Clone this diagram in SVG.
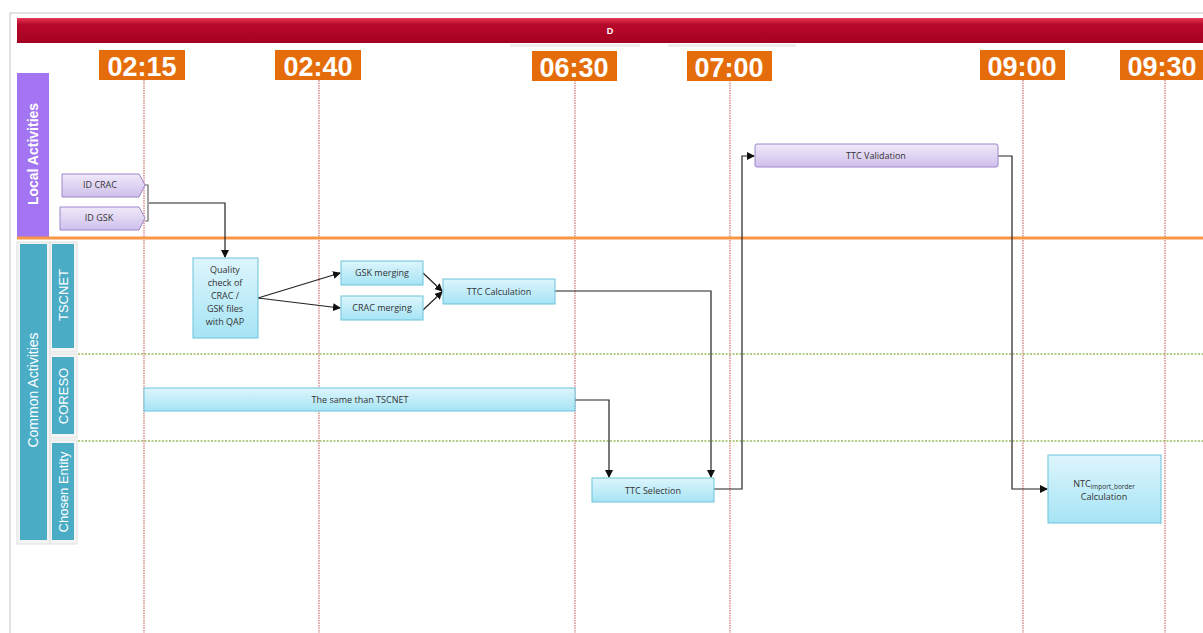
<svg xmlns="http://www.w3.org/2000/svg" width="1203" height="633" viewBox="0 0 1203 633">
<defs>
<linearGradient id="gBlue" x1="0" y1="0" x2="0" y2="1">
<stop offset="0" stop-color="#DDF5FC"/>
<stop offset="1" stop-color="#A6E4F5"/>
</linearGradient>
<linearGradient id="gPurple" x1="0" y1="0" x2="0" y2="1">
<stop offset="0" stop-color="#F0E9F9"/>
<stop offset="1" stop-color="#CFC0EC"/>
</linearGradient>
<linearGradient id="gRed" x1="0" y1="0" x2="0" y2="1">
<stop offset="0" stop-color="#E8385A"/>
<stop offset="0.25" stop-color="#B80A2A"/>
<stop offset="1" stop-color="#A50022"/>
</linearGradient>
<marker id="arr" markerWidth="8" markerHeight="8" refX="7" refY="4" orient="auto" markerUnits="userSpaceOnUse">
<path d="M0,0 L8,4 L0,8 z" fill="#111"/>
</marker>
<style>
.time{fill:#E46C0A}
.timet{font-family:"Liberation Sans",Arial,sans-serif;font-weight:bold;font-size:27px;fill:#fff;text-anchor:middle}
.vline{stroke:#C0504D;stroke-width:1.2;stroke-dasharray:1.5 1;fill:none;opacity:0.8}
.gline{stroke:#9BBB59;stroke-width:1.5;stroke-dasharray:2 1.5;fill:none}
.blue{fill:url(#gBlue);stroke:#6CC3DC;stroke-width:1}
.purple{fill:url(#gPurple);stroke:#9C86C9;stroke-width:1}
.nt{font-family:"Open Sans","Liberation Sans",sans-serif;font-size:9px;fill:#333;text-anchor:middle}
.conn{stroke:#222;stroke-width:1.2;fill:none}
.lane{font-family:"Liberation Sans",Arial,sans-serif;fill:#fff;text-anchor:middle}
</style>
</defs>
<rect x="0" y="0" width="1203" height="633" fill="#fff"/>
<path d="M10,633 L10,13 L1203,13" fill="none" stroke="#D9D9D9" stroke-width="1.5"/>

<g id="header">
<rect x="17" y="18" width="1186" height="25" fill="url(#gRed)"/>
<rect x="510" y="44" width="130" height="3" fill="#EEEEEE"/>
<rect x="668" y="44" width="128" height="3" fill="#EEEEEE"/>
<text x="610" y="34" font-family="Liberation Sans,Arial,sans-serif" font-size="9" font-weight="bold" fill="#fff" text-anchor="middle">D</text>
</g>

<g id="timeline">
<line class="vline" x1="144" y1="80" x2="144" y2="633"/>
<line class="vline" x1="319" y1="80" x2="319" y2="633"/>
<line class="vline" x1="575" y1="80" x2="575" y2="633"/>
<line class="vline" x1="730" y1="80" x2="730" y2="633"/>
<line class="vline" x1="1023" y1="80" x2="1023" y2="633"/>
<line class="vline" x1="1165" y1="80" x2="1165" y2="633"/>
<rect class="time" x="99" y="50" width="86" height="30"/>
<text class="timet" x="142" y="76">02:15</text>
<rect class="time" x="275" y="50" width="86" height="30"/>
<text class="timet" x="318" y="76">02:40</text>
<rect class="time" x="532" y="51" width="85" height="30"/>
<text class="timet" x="574" y="77">06:30</text>
<rect class="time" x="687" y="51" width="85" height="30"/>
<text class="timet" x="729" y="77">07:00</text>
<rect class="time" x="980" y="50" width="85" height="30"/>
<text class="timet" x="1022" y="76">09:00</text>
<rect class="time" x="1120" y="50" width="85" height="30"/>
<text class="timet" x="1162" y="76">09:30</text>
</g>

<g id="lanes">
<rect x="17" y="73" width="32" height="164" fill="#A475F2"/>
<text class="lane" font-size="14" font-weight="bold" transform="translate(38,154) rotate(-90)">Local Activities</text>
<line x1="17" y1="238" x2="1203" y2="238" stroke="#F79646" stroke-width="3"/>
<rect x="17" y="242" width="33" height="302" fill="#F4F4F4" stroke="#E0E0E0" stroke-width="1"/>
<rect x="20" y="244" width="27" height="296" fill="#4BACC6"/>
<text class="lane" font-size="14" transform="translate(38,390) rotate(-90)">Common Activities</text>
<rect x="50" y="242" width="27" height="110" fill="#F4F4F4" stroke="#E0E0E0" stroke-width="1"/>
<rect x="52" y="244" width="22" height="104" fill="#4BACC6"/>
<text class="lane" font-size="13" transform="translate(68,295) rotate(-90)">TSCNET</text>
<rect x="50" y="354" width="27" height="84" fill="#F4F4F4" stroke="#E0E0E0" stroke-width="1"/>
<rect x="52" y="357" width="22" height="77" fill="#4BACC6"/>
<text class="lane" font-size="13" transform="translate(68,396) rotate(-90)">CORESO</text>
<rect x="50" y="440" width="27" height="104" fill="#F4F4F4" stroke="#E0E0E0" stroke-width="1"/>
<rect x="52" y="443" width="22" height="97" fill="#4BACC6"/>
<text class="lane" font-size="13" transform="translate(68,492) rotate(-90)">Chosen Entity</text>
<line class="gline" x1="78" y1="354" x2="1203" y2="354"/>
<line class="gline" x1="78" y1="441" x2="1203" y2="441"/>
</g>

<g id="connectors">
<path class="conn" d="M149,203 L225,203 L225,257" marker-end="url(#arr)"/>
<path class="conn" d="M258,298 L340,273" marker-end="url(#arr)"/>
<path class="conn" d="M258,298 L340,308" marker-end="url(#arr)"/>
<path class="conn" d="M423,273 L442,291" marker-end="url(#arr)"/>
<path class="conn" d="M423,310 L442,292" marker-end="url(#arr)"/>
<path class="conn" d="M555,291 L711,291 L711,477" marker-end="url(#arr)"/>
<path class="conn" d="M575,400 L609,400 L609,477" marker-end="url(#arr)"/>
<path class="conn" d="M714,489 L742,489 L742,156 L754,156" marker-end="url(#arr)"/>
<path class="conn" d="M998,156 L1012,156 L1012,489 L1047,489" marker-end="url(#arr)"/>
</g>

<g id="id-crac">
<path class="purple" d="M62,174 L139,174 L145,185 L139,197 L62,197 z"/>
<text class="nt" x="100" y="188" font-size="8">ID CRAC</text>
</g>
<g id="id-gsk">
<path class="purple" d="M60,207 L139,207 L145,218 L139,230 L60,230 z"/>
<text class="nt" x="99" y="221" font-size="8">ID GSK</text>
</g>
<g id="bracket">
<path d="M145,185 L148,185 L148,221 L145,221" fill="none" stroke="#666" stroke-width="1.2"/>
</g>

<g id="quality-check">
<rect class="blue" x="193" y="258" width="65" height="80"/>
<text class="nt" x="225" y="273">Quality</text>
<text class="nt" x="225" y="286">check of</text>
<text class="nt" x="225" y="299">CRAC /</text>
<text class="nt" x="225" y="312">GSK files</text>
<text class="nt" x="225" y="325">with QAP</text>
</g>
<g id="gsk-merging">
<rect class="blue" x="341" y="261" width="82" height="24"/>
<text class="nt" x="382" y="276">GSK merging</text>
</g>
<g id="crac-merging">
<rect class="blue" x="341" y="296" width="82" height="24"/>
<text class="nt" x="382" y="311">CRAC merging</text>
</g>
<g id="ttc-calculation">
<rect class="blue" x="443" y="279" width="112" height="25"/>
<text class="nt" x="499" y="295" font-size="10">TTC Calculation</text>
</g>
<g id="same-tscnet">
<rect class="blue" x="144" y="388" width="431" height="23"/>
<text class="nt" x="360" y="403">The same than TSCNET</text>
</g>
<g id="ttc-selection">
<rect class="blue" x="592" y="478" width="122" height="24"/>
<text class="nt" x="653" y="494" font-size="10">TTC Selection</text>
</g>
<g id="ttc-validation">
<rect class="purple" x="755" y="144" width="243" height="23" rx="2"/>
<text class="nt" x="876" y="159" font-size="8.5">TTC Validation</text>
</g>
<g id="ntc-calculation">
<rect class="blue" x="1048" y="455" width="113" height="68"/>
<text class="nt" x="1104" y="487" font-size="10">NTC<tspan font-size="6.5" dy="2">import_border</tspan></text>
<text class="nt" x="1104" y="500" font-size="10">Calculation</text>
</g>
</svg>
